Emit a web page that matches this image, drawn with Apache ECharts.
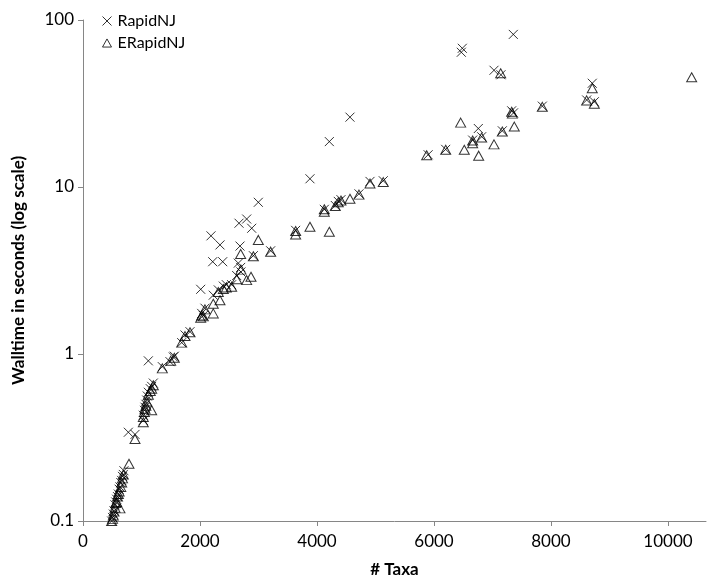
<!DOCTYPE html>
<html>
<head>
<meta charset="utf-8">
<script src="https://cdn.jsdelivr.net/npm/echarts@6/dist/echarts.min.js"></script>
<style>html,body{margin:0;padding:0;background:#fff}#c{width:717px;height:585px}</style>
</head>
<body>
<div id="c"></div>
<script>
const xTicks = [0, 2000, 4000, 6000, 8000, 10000];
const yTicks = [0.1, 1, 10, 100];

const rapidNJ = [
  [490,0.10],[505,0.105],[518,0.11],[530,0.115],[547,0.125],[560,0.13],[575,0.135],[590,0.14],
  [604,0.145],[618,0.155],[632,0.16],[646,0.17],[661,0.175],[675,0.185],[689,0.19],[700,0.2],
  [775,0.34],[889,0.33],[1031,0.40],[1031,0.43],[1050,0.46],[1060,0.48],[1075,0.5],[1089,0.53],
  [1100,0.56],[1117,0.59],[1150,0.62],[1174,0.64],[1202,0.67],[1117,0.91],[1356,0.84],[1487,0.9],
  [1544,0.96],[1561,0.97],[1687,1.17],[1744,1.3],[1829,1.36],[2012,2.44],[2029,1.75],[2057,1.7],
  [2085,1.88],[2188,5.1],[2217,3.57],[2227,2.25],[2313,2.42],[2342,4.5],[2388,3.57],[2399,2.55],
  [2450,2.6],[2541,2.6],[2627,2.95],[2655,3.5],[2667,6.07],[2684,4.43],[2695,3.3],[2700,3.1],
  [2798,6.43],[2884,5.66],[2912,3.88],[2997,8.1],[3208,4.15],[3635,5.5],[3880,11.2],[4125,7.35],
  [4211,18.7],[4313,7.75],[4364,8.2],[4410,8.4],[4564,26.2],[4718,9.1],[4906,10.8],[5133,10.9],
  [5900,15.6],[6200,16.8],[6467,64.1],[6484,67.7],[6661,19.1],[6758,22.4],[6815,20],[7026,50],
  [7145,47],[7168,21.7],[7328,28.6],[7360,27.8],[7356,82],[7852,30.5],[8610,33.2],[8706,41.8],[8741,32.4]
];

const eRapidNJ = [
  [490,0.10],[505,0.103],[518,0.108],[530,0.114],[547,0.12],[560,0.128],[575,0.13],[590,0.14],
  [604,0.145],[632,0.119],[618,0.15],[646,0.16],[661,0.17],[675,0.18],[689,0.19],[786,0.22],
  [889,0.31],[1031,0.39],[1031,0.42],[1050,0.45],[1060,0.47],[1075,0.49],[1089,0.52],[1117,0.57],
  [1174,0.46],[1150,0.6],[1174,0.62],[1202,0.65],[1356,0.82],[1499,0.91],[1561,0.95],[1687,1.17],
  [1744,1.28],[1829,1.35],[2012,1.65],[2029,1.7],[2057,1.68],[2085,1.85],[2227,1.75],[2227,2.0],
  [2342,2.1],[2313,2.35],[2399,2.45],[2450,2.5],[2541,2.53],[2627,2.8],[2695,3.97],[2700,3.2],
  [2798,2.77],[2872,2.9],[2912,3.85],[2997,4.82],[3208,4.1],[3635,5.2],[3635,5.45],[3880,5.78],
  [4125,7.1],[4125,7.35],[4211,5.4],[4313,7.7],[4364,8.1],[4410,8.3],[4564,8.5],[4718,9.0],
  [4906,10.5],[5133,10.7],[5875,15.5],[6200,16.7],[6456,24.3],[6518,16.7],[6661,18.3],[6661,19.0],
  [6764,15.4],[6815,19.8],[7026,18],[7140,48],[7168,21.5],[7328,28.2],[7340,27.5],[7373,23],
  [7852,30.2],[8610,33],[8706,39],[8741,31.5],[10405,45.4]
];

const FONT = 'Lato';
const crossPath = 'path://M0,0L10,10M10,0L0,10';
const triPath = 'path://M5,0L10,9L0,9Z';

const chart = echarts.init(document.getElementById('c'));
chart.setOption({
  animation: false,
  backgroundColor: '#fff',
  textStyle: { fontFamily: FONT },
  grid: { left: 83, top: 20, right: 11, bottom: 64, containLabel: false },
  legend: {
    orient: 'vertical', left: 95, top: 8, itemGap: 6, itemWidth: 9, itemHeight: 9,
    textStyle: { fontFamily: FONT, fontSize: 16, color: '#000', padding: [0,0,0,1] },
    data: [
      { name: 'RapidNJ', icon: crossPath, itemStyle: { color: 'none', borderColor: '#000', borderWidth: 1 } },
      { name: 'ERapidNJ', icon: triPath, itemStyle: { color: 'none', borderColor: '#000', borderWidth: 1 } }
    ]
  },
  xAxis: {
    type: 'value', min: 0, max: 10650,
    name: '# Taxa', nameLocation: 'middle', nameGap: 40,
    nameTextStyle: { fontFamily: FONT, fontWeight: 'bold', fontSize: 17, color: '#000' },
    axisLine: { show: true, lineStyle: { color: '#868686', width: 1 } },
    axisTick: { show: true, length: 5, lineStyle: { color: '#868686' }, customValues: xTicks },
    axisLabel: { fontFamily: FONT, fontSize: 17, color: '#000', margin: 12, customValues: xTicks,
      formatter: v => String(v) },
    splitLine: { show: false }
  },
  yAxis: {
    type: 'log', logBase: 10, min: 0.1, max: 100,
    name: 'Walltime in seconds (log scale)', nameLocation: 'middle', nameGap: 56,
    nameTextStyle: { fontFamily: FONT, fontWeight: 'bold', fontSize: 17, color: '#000' },
    axisLine: { show: true, lineStyle: { color: '#868686', width: 1 } },
    axisTick: { show: true, length: 5, lineStyle: { color: '#868686' }, customValues: yTicks },
    axisLabel: { fontFamily: FONT, fontSize: 17, color: '#000', margin: 9, customValues: yTicks,
      formatter: v => String(+v.toPrecision(3)) },
    splitLine: { show: false },
    minorTick: { show: false }
  },
  series: [
    { name: 'RapidNJ', type: 'scatter', data: rapidNJ, symbol: crossPath, symbolSize: [9, 9],
      itemStyle: { color: 'none', borderColor: '#000', borderWidth: 1 }, z: 3 },
    { name: 'ERapidNJ', type: 'scatter', data: eRapidNJ, symbol: triPath, symbolSize: [10, 9],
      itemStyle: { color: 'none', borderColor: '#000', borderWidth: 1 }, z: 2 }
  ]
});
</script>
</body>
</html>
